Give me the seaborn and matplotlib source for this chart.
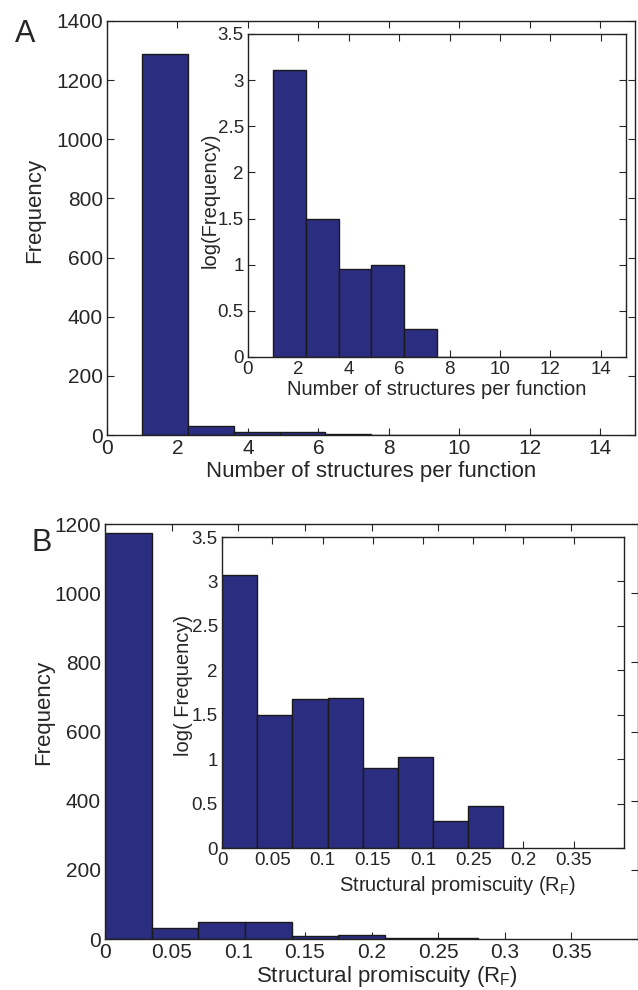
import numpy as np
import pandas as pd
import seaborn as sns
import matplotlib.pyplot as plt

# Panel A: numero de estructuras por funcion (10 bins entre 1 y 14)
edges_a = [1.0, 2.3, 3.6, 4.9, 6.2, 7.5, 8.8, 10.1, 11.4, 12.7, 14.0]
counts_a = [1290, 31, 9, 10, 2, 1, 1, 0, 1, 1]
logfreq_a = [3.11, 1.49, 0.95, 1.0, 0.30, 0, 0, 0, 0, 0]
xticks_a = [0, 2, 4, 6, 8, 10, 12, 14]
yticks_a_main = [0, 200, 400, 600, 800, 1000, 1200, 1400]

# Panel B: promiscuidad estructural (8 bins)
edges_b = [0.0, 0.035, 0.07, 0.105, 0.14, 0.175, 0.21, 0.245, 0.28]
counts_b = [1175, 32, 48, 49, 8, 11, 2, 3]
logfreq_b = [3.07, 1.50, 1.68, 1.69, 0.90, 1.03, 0.30, 0.47]
xticks_b = [0, 0.05, 0.1, 0.15, 0.2, 0.25, 0.3, 0.35]
xlabels_b_main = ["0", "0.05", "0.1", "0.15", "0.2", "0.25", "0.3", "0.35"]
xlabels_b_inset = ["0", "0.05", "0.1", "0.15", "0.1", "0.25", "0.2", "0.35"]
yticks_b_main = [0, 200, 400, 600, 800, 1000, 1200]

yticks_log = [0, 0.5, 1, 1.5, 2, 2.5, 3, 3.5]
ylabels_log = ["0", "0.5", "1", "1.5", "2", "2.5", "3", "3.5"]

navy = "#2b2d80"

sns.set_style("ticks")
plt.rcParams['font.family'] = ['Liberation Sans', 'DejaVu Sans']

fig = plt.figure(figsize=(6.38, 9.9), dpi=100)


def hist(ax, edges, vals):
    e = np.array(edges)
    centers = (e[:-1] + e[1:]) / 2
    df = pd.DataFrame({'x': centers, 'w': vals})
    sns.histplot(data=df, x='x', weights='w', bins=list(edges), ax=ax, color=navy,
                 alpha=1, edgecolor='#1a1a1a', linewidth=1.0)


def style(ax, fs):
    ax.tick_params(direction='in', top=True, right=True, length=5,
                   width=0.8, labelsize=fs, pad=3)
    for s in ax.spines.values():
        s.set_visible(True)
        s.set_linewidth(1.0)
        s.set_color('#222222')


def labels(ax, xl, yl, fs, xpos, ypos):
    ax.set_xlabel(xl, fontsize=fs)
    ax.set_ylabel(yl, fontsize=fs)
    ax.xaxis.label.set_va('center')
    ax.yaxis.label.set_va('center')
    ax.xaxis.set_label_coords(*xpos)
    ax.yaxis.set_label_coords(*ypos)


# ---------- A ----------
axA = fig.add_axes([0.1677, 0.5606, 0.8283, 0.4182])
hist(axA, edges_a, counts_a)
axA.set_xlim(0, 15)
axA.set_ylim(0, 1400)
axA.set_xticks(xticks_a)
axA.set_yticks(yticks_a_main)
style(axA, 15)
labels(axA, "Number of structures per function", "Frequency", 16,
       (0.5, -0.089), (-0.136, 0.543))

axAi = fig.add_axes([0.3887, 0.6394, 0.5925, 0.3263])
axAi.set_facecolor('white')
hist(axAi, edges_a, logfreq_a)
axAi.set_xlim(0, 15)
axAi.set_ylim(0, 3.5)
axAi.set_xticks(xticks_a)
axAi.set_yticks(yticks_log)
axAi.set_yticklabels(ylabels_log)
style(axAi, 13.5)
labels(axAi, "Number of structures per function", "log(Frequency)", 14.5,
       (0.5, -0.102), (-0.1005, 0.486))

fig.text(15 / 638, 1 - 34 / 990, "A", fontsize=22, va='center')

# ---------- B ----------
axB = fig.add_axes([0.1646, 0.0515, 0.8354, 0.4192])
hist(axB, edges_b, counts_b)
axB.set_xlim(0, 0.4)
axB.set_ylim(0, 1200)
axB.set_xticks(xticks_b)
axB.set_xticklabels(xlabels_b_main)
axB.set_yticks(yticks_b_main)
style(axB, 15)
labels(axB, "Structural promiscuity (R$\\mathregular{_F}$)", "Frequency", 16,
       (0.529, -0.091), (-0.116, 0.547))

axBi = fig.add_axes([0.348, 0.1434, 0.630, 0.3141])
axBi.set_facecolor('white')
hist(axBi, edges_b, logfreq_b)
axBi.set_xlim(0, 0.4)
axBi.set_ylim(0, 3.5)
axBi.set_xticks(xticks_b)
axBi.set_xticklabels(xlabels_b_inset)
axBi.set_yticks(yticks_log)
axBi.set_yticklabels(ylabels_log)
style(axBi, 13.5)
labels(axBi, "Structural promiscuity (R$\\mathregular{_F}$)", "log( Frequency)", 14.5,
       (0.587, -0.119), (-0.097, 0.524))

fig.text(32 / 638, 1 - 543 / 990, "B", fontsize=22, va='center')

plt.savefig("out.png", dpi=100)
